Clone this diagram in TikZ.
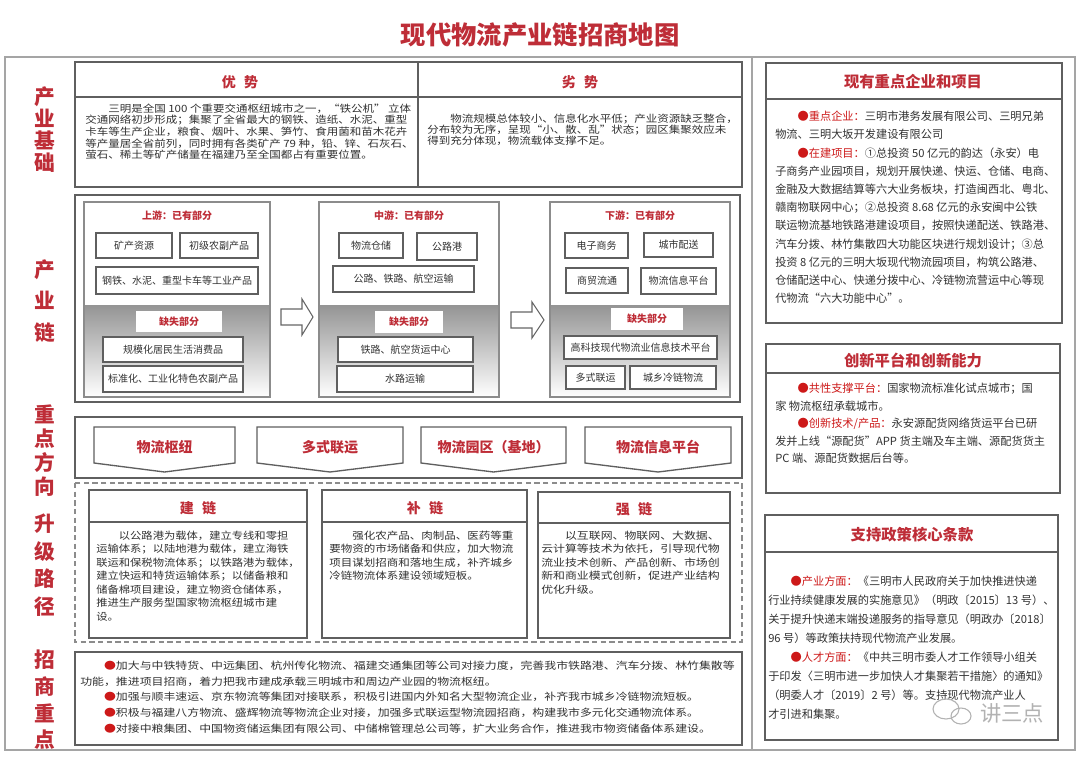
\documentclass[tikz,border=0pt]{standalone}
\usepackage{fontspec}
\setmainfont{Noto Sans CJK SC}
\newfontfamily\cjk{Noto Sans CJK SC}
\newfontfamily\cjkw[FakeStretch=1.19]{Noto Sans CJK SC}
\newfontfamily\cjku[FakeStretch=1.15]{Noto Sans CJK SC}
\newfontfamily\cjkv[FakeStretch=1.13]{Noto Sans CJK SC}
\usetikzlibrary{calc}
\definecolor{hred}{RGB}{190,45,55}
\definecolor{bred}{RGB}{205,25,25}
\definecolor{txt}{RGB}{50,50,50}
\definecolor{frm}{RGB}{165,165,165}
\definecolor{bx}{RGB}{95,95,95}
\tikzset{
  frame/.style={draw=frm, line width=2pt},
  sect/.style={draw=bx, line width=0.9pt},
  stagebox/.style={draw=black!45, line width=1pt},
  ibox/.style={draw=bx, line width=1pt, fill=white},
  ibtext/.style={text=txt, font=\cjk\fontsize{7.5}{9}\selectfont},
  misslabel/.style={text=hred, font=\cjk\bfseries\fontsize{7.5}{9}\selectfont},
  sthead/.style={text=hred, font=\cjk\bfseries\fontsize{7.5}{9}\selectfont},
  sechead/.style={text=hred, font=\cjk\bfseries\fontsize{10.5}{12}\selectfont},
  rhead/.style={text=hred, font=\cjk\bfseries\fontsize{11.5}{13}\selectfont},
  sidelabel/.style={text=hred, align=center},
  body/.style={anchor=north west, inner sep=0pt, align=left, text=txt},
  chev/.style={draw=bx, line width=1pt, fill=white},
  chevtext/.style={text=hred, font=\cjk\bfseries\fontsize{10.5}{12}\selectfont},
  blockarrow/.style={draw=black!60, fill=white, line width=0.8pt, line join=miter},
  gshade/.style={top color=black!42, bottom color=white}
}
\begin{document}
\begin{tikzpicture}[x=0.75pt,y=-0.75pt]
\useasboundingbox (0,0) rectangle (1080,760);
\fill[white] (0,0) rectangle (1080,760);

% title
\node[text=hred, font=\cjk\bfseries\fontsize{19}{21}\selectfont] (title) at (540,35) {现代物流产业链招商地图};

% outer frame
\draw[frame] (5,57) rectangle (1075,750);
\draw[frame] (752,57) -- (752,750);

% side labels
\node[sidelabel, font=\cjk\bfseries\fontsize{15.5}{16.5}\selectfont] (lab1) at (45,130) {产\\业\\基\\础};
\node[sidelabel, font=\cjk\bfseries\fontsize{15.5}{23.6}\selectfont] (lab2) at (45,301) {产\\业\\链};
\node[sidelabel, font=\cjk\bfseries\fontsize{15.5}{18}\selectfont] (lab3) at (45,451) {重\\点\\方\\向};
\node[sidelabel, font=\cjk\bfseries\fontsize{15.5}{20.8}\selectfont] (lab4) at (45,565) {升\\级\\路\\径};
\node[sidelabel, font=\cjk\bfseries\fontsize{15.5}{20}\selectfont] (lab5) at (45,700) {招\\商\\重\\点};

% ===== 优势 / 劣势 =====
\draw[sect] (75,62) rectangle (418,187);
\draw[sect] (75,97) -- (418,97);
\draw[sect] (418,62) rectangle (742,187);
\draw[sect] (418,97) -- (742,97);
\node[sechead] (hadv) at (240,82) {优\hspace{0.6em}势};
\node[sechead] (hdis) at (580,82) {劣\hspace{0.6em}势};
\node[body, font=\cjku\fontsize{7.5}{8.7}\selectfont] (adv) at (85,103.5) {　　三明是全国 100 个重要交通枢纽城市之一，“铁公机” 立体\\交通网络初步形成；集聚了全省最大的钢铁、造纸、水泥、重型\\卡车等生产企业，粮食、烟叶、水果、笋竹、食用菌和苗木花卉\\等产量居全省前列，同时拥有各类矿产 79 种，铅、锌、石灰石、\\萤石、稀土等矿产储量在福建乃至全国都占有重要位置。};
\node[body, font=\cjku\fontsize{7.5}{8.25}\selectfont] (dis) at (427,113.5) {　　物流规模总体较小、信息化水平低；产业资源缺乏整合，\\分布较为无序，呈现“小、散、乱”状态；园区集聚效应未\\得到充分体现，物流载体支撑不足。};

% ===== 产业链 =====
\draw[sect] (75,195) rectangle (740,402);
% upstream
\shade[gshade] (84,305) rectangle (270,397);
\draw[stagebox] (84,202) rectangle (270,397);
\node[sthead] (uph) at (177,216) {上游：已有部分};
\draw[ibox] (96,233) rectangle node[ibtext] (u1) {矿产资源} (172,258);
\draw[ibox] (180,233) rectangle node[ibtext] (u2) {初级农副产品} (258,258);
\draw[ibox] (96,267) rectangle node[ibtext] (u3) {钢铁、水泥、重型卡车等工业产品} (258,294);
\fill[white] (136,311) rectangle (222,332);
\node[misslabel] (um) at (179,321.5) {缺失部分};
\draw[ibox] (103,337) rectangle node[ibtext] (u4) {规模化居民生活消费品} (243,362);
\draw[ibox] (103,366) rectangle node[ibtext] (u5) {标准化、工业化特色农副产品} (243,392);
% midstream
\shade[gshade] (319,305) rectangle (499,397);
\draw[stagebox] (319,202) rectangle (499,397);
\node[sthead] (midh) at (409,216) {中游：已有部分};
\draw[ibox] (339,233) rectangle node[ibtext] (m1) {物流仓储} (403,258);
\draw[ibox] (417,233) rectangle node[ibtext] (m2) {公路港} (477,260);
\draw[ibox] (333,266) rectangle node[ibtext] (m3) {公路、铁路、航空运输} (474,292);
\fill[white] (375,311) rectangle (443,333);
\node[misslabel] (mm) at (409,322) {缺失部分};
\draw[ibox] (338,337) rectangle node[ibtext] (m4) {铁路、航空货运中心} (473,362);
\draw[ibox] (337,366) rectangle node[ibtext] (m5) {水路运输} (473,392);
% downstream
\shade[gshade] (550,305) rectangle (730,397);
\draw[stagebox] (550,202) rectangle (730,397);
\node[sthead] (dh) at (640,216) {下游：已有部分};
\draw[ibox] (565,233) rectangle node[ibtext] (d1) {电子商务} (628,258);
\draw[ibox] (644,233) rectangle node[ibtext] (d2) {城市配送} (713,257);
\draw[ibox] (566,268) rectangle node[ibtext] (d3) {商贸流通} (628,293);
\draw[ibox] (641,268) rectangle node[ibtext] (d4) {物流信息平台} (716,294);
\fill[white] (611,308) rectangle (683,330);
\node[misslabel] (dm) at (647,319) {缺失部分};
\draw[ibox] (564,336) rectangle node[ibtext] (d5) {高科技现代物流业信息技术平台} (717,359);
\draw[ibox] (566,366) rectangle node[ibtext] (d6) {多式联运} (625,389);
\draw[ibox] (630,366) rectangle node[ibtext] (d7) {城乡冷链物流} (716,389);
% block arrows
\draw[blockarrow] (281,309) -- (302,309) -- (302,299) -- (313,317) -- (302,335) -- (302,325) -- (281,325) -- cycle;
\draw[blockarrow] (511,312) -- (532,312) -- (532,302) -- (544,320) -- (532,338) -- (532,328) -- (511,328) -- cycle;

% ===== 重点方向 =====
\draw[sect] (75,417) rectangle (742,478);
\draw[chev] (94,427) -- (235,427) -- (235,463) -- (164.5,472) -- (94,463) -- cycle;
\draw[chev] (257,427) -- (403,427) -- (403,463) -- (330,472) -- (257,463) -- cycle;
\draw[chev] (421,427) -- (566,427) -- (566,463) -- (493.5,472) -- (421,463) -- cycle;
\draw[chev] (585,427) -- (731,427) -- (731,463) -- (658,472) -- (585,463) -- cycle;
\node[chevtext] (c1) at (164.5,447) {物流枢纽};
\node[chevtext] (c2) at (330,447) {多式联运};
\node[chevtext] (c3) at (493.5,447) {物流园区（基地）};
\node[chevtext] (c4) at (658,447) {物流信息平台};

% ===== 升级路径 =====
\draw[draw=black!45, line width=0.9pt, dash pattern=on 4pt off 2.5pt] (75,483) rectangle (742,642);
\draw[sect] (89,490) rectangle (307,638);
\draw[sect] (89,522) -- (307,522);
\draw[sect] (322,490) rectangle (527,638);
\draw[sect] (322,522) -- (527,522);
\draw[sect] (538,492) rectangle (730,638);
\draw[sect] (538,523) -- (730,523);
\node[sechead] (hb1) at (198,508) {建\hspace{0.6em}链};
\node[sechead] (hb2) at (425,508) {补\hspace{0.6em}链};
\node[sechead] (hb3) at (634,509) {强\hspace{0.6em}链};
\node[body, font=\cjkv\fontsize{7.5}{10.1}\selectfont] (b1) at (96,530.5) {　　以公路港为载体，建立专线和零担\\运输体系；以陆地港为载体，建立海铁\\联运和保税物流体系；以铁路港为载体，\\建立快运和特货运输体系；以储备粮和\\储备棉项目建设，建立物资仓储体系，\\推进生产服务型国家物流枢纽城市建\\设。};
\node[body, font=\cjku\fontsize{7.5}{10.1}\selectfont] (b2) at (329,530.5) {　　强化农产品、肉制品、医药等重\\要物资的市场储备和供应，加大物流\\项目谋划招商和落地生成，补齐城乡\\冷链物流体系建设领域短板。};
\node[body, font=\cjkw\fontsize{7.5}{10.1}\selectfont] (b3) at (541,530.5) {　　以互联网、物联网、大数据、\\云计算等技术为依托，引导现代物\\流业技术创新、产品创新、市场创\\新和商业模式创新，促进产业结构\\优化升级。};

% ===== 招商重点 =====
\draw[sect] (75,652) rectangle (742,745);
\node[body, font=\cjkw\fontsize{7.5}{11.8}\selectfont] (inv) at (80,660.5) {　　\textcolor{bred}{●}加大与中铁特货、中远集团、杭州传化物流、福建交通集团等公司对接力度，完善我市铁路港、汽车分拨、林竹集散等\\功能，推进项目招商，着力把我市建成承载三明城市和周边产业园的物流枢纽。\\　　\textcolor{bred}{●}加强与顺丰速运、京东物流等集团对接联系，积极引进国内外知名大型物流企业，补齐我市城乡冷链物流短板。\\　　\textcolor{bred}{●}积极与福建八方物流、盛辉物流等物流企业对接，加强多式联运型物流园招商，构建我市多元化交通物流体系。\\　　\textcolor{bred}{●}对接中粮集团、中国物资储运集团有限公司、中储棉管理总公司等，扩大业务合作，推进我市物资储备体系建设。};

% ===== right panels =====
\draw[sect] (766,63) rectangle (1062,323);
\draw[sect] (766,99) -- (1062,99);
\node[rhead] (rh1) at (913,82) {现有重点企业和项目};
\node[body, font=\cjk\fontsize{8.4}{13.65}\selectfont] (r1) at (775,111) {　　\textcolor{bred}{●重点企业：}三明市港务发展有限公司、三明兄弟\\物流、三明大坂开发建设有限公司\\　　\textcolor{bred}{●在建项目：}①总投资 50 亿元的韵达（永安）电\\子商务产业园项目，规划开展快递、快运、仓储、电商、\\金融及大数据结算等六大业务板块，打造闽西北、粤北、\\赣南物联网中心；②总投资 8.68 亿元的永安闽中公铁\\联运物流基地铁路港建设项目，按照快递配送、铁路港、\\汽车分拨、林竹集散四大功能区块进行规划设计；③总\\投资 8 亿元的三明大坂现代物流园项目，构筑公路港、\\仓储配送中心、快递分拨中心、冷链物流营运中心等现\\代物流“六大功能中心”。};

\draw[sect] (766,344) rectangle (1060,493);
\draw[sect] (766,373) -- (1060,373);
\node[rhead] (rh2) at (913,361) {创新平台和创新能力};
\node[body, font=\cjk\fontsize{8.4}{13.1}\selectfont] (r2) at (775,383) {　　\textcolor{bred}{●共性支撑平台：}国家物流标准化试点城市；国\\家 物流枢纽承载城市。\\　　\textcolor{bred}{●创新技术/产品：}永安源配货网络货运平台已研\\发并上线“源配货”APP 货主端及车主端、源配货货主\\PC 端、源配货数据后台等。};

\draw[sect] (765,515) rectangle (1058,740);
\draw[sect] (765,552) -- (1058,552);
\node[rhead] (rh3) at (912,535) {支持政策核心条款};
\node[body, font=\cjk\fontsize{8.4}{14.25}\selectfont] (r3) at (768,576) {　　\textcolor{bred}{●产业方面：}《三明市人民政府关于加快推进快递\\行业持续健康发展的实施意见》（明政〔2015〕13 号）、\\关于提升快递末端投递服务的指导意见（明政办〔2018〕\\96 号）等政策扶持现代物流产业发展。\\　　\textcolor{bred}{●人才方面：}《中共三明市委人才工作领导小组关\\于印发〈三明市进一步加快人才集聚若干措施〉的通知》\\（明委人才〔2019〕2 号）等。支持现代物流产业人\\才引进和集聚。};

% watermark
\draw[gray!60, line width=0.8pt] (946,709) ellipse [x radius=13, y radius=10];
\draw[gray!60, line width=0.8pt] (961,716) ellipse [x radius=10, y radius=8];
\node[text=gray!60, font=\cjk\fontsize{16}{18}\selectfont] (wm) at (1012,713) {讲三点};
\end{tikzpicture}
\end{document}
